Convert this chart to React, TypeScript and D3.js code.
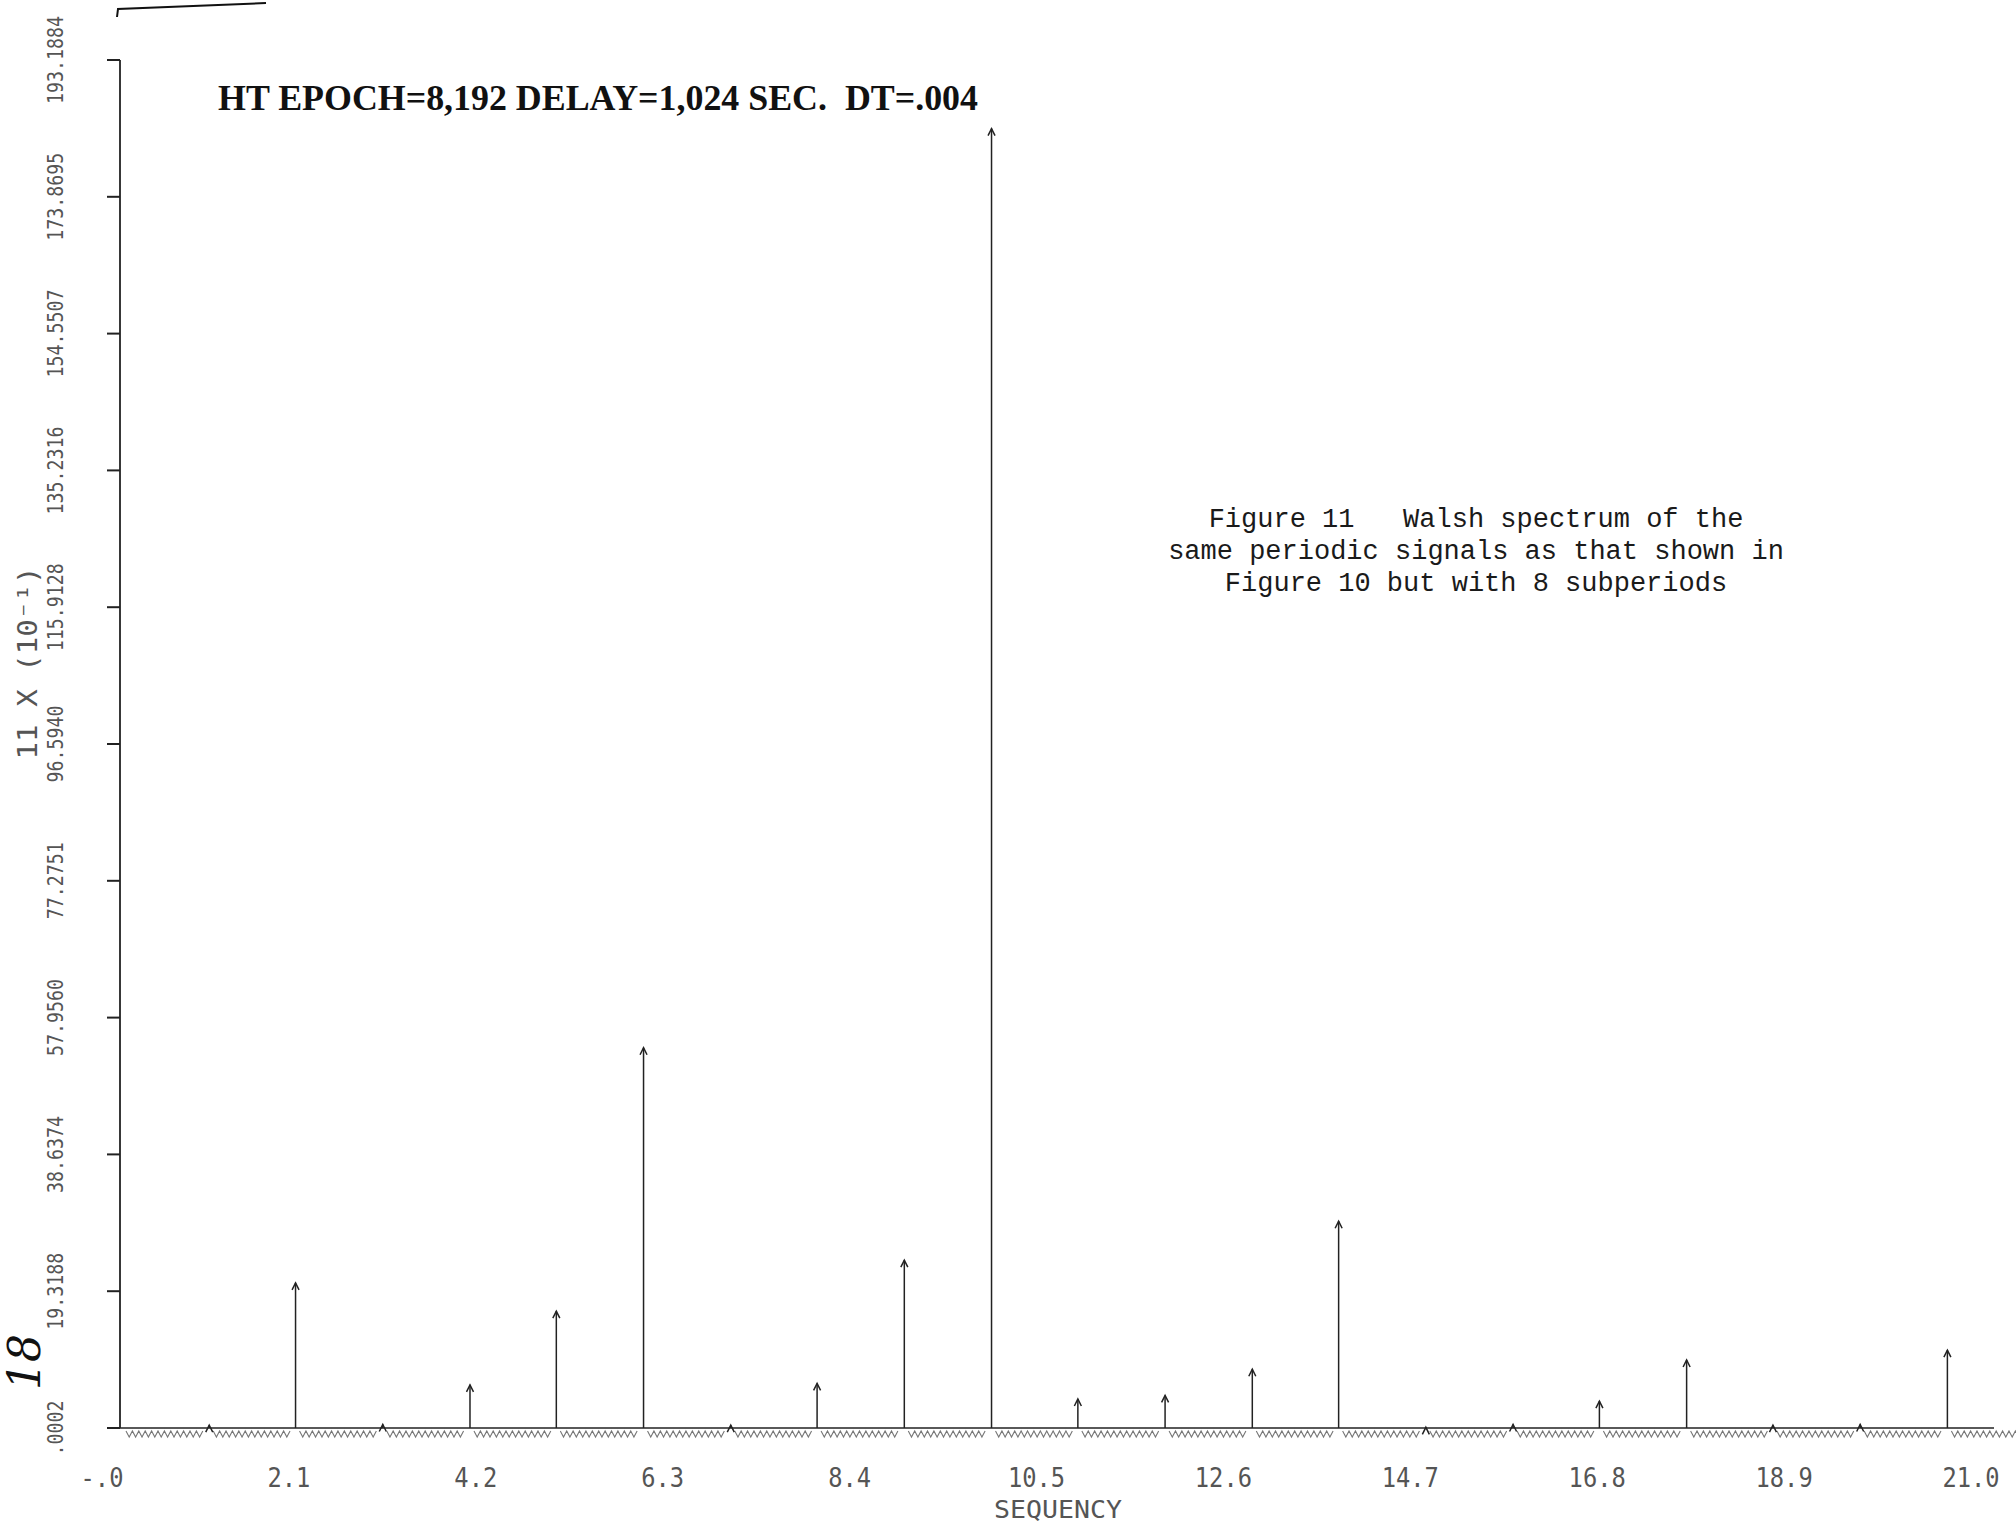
import React from "react";
import * as d3 from "d3";

// ---- data ----
const sequency = [0.98, 1.95, 2.93, 3.91, 4.88, 5.86, 6.84, 7.81, 8.79, 9.77, 10.74, 11.72, 12.7, 13.67, 14.65, 15.63, 16.6, 17.58, 18.55, 19.53, 20.51];
const amplitude = [0.4, 20.5, 0.5, 6.1, 16.5, 53.7, 0.4, 6.3, 23.7, 183.5, 4.1, 4.6, 8.3, 29.2, 0.1, 0.5, 3.8, 9.6, 0.4, 0.5, 11.0];

const xTickValues = [0, 2.1, 4.2, 6.3, 8.4, 10.5, 12.6, 14.7, 16.8, 18.9, 21.0];
const xTickLabels = ["-.0", "2.1", "4.2", "6.3", "8.4", "10.5", "12.6", "14.7", "16.8", "18.9", "21.0"];

const yTickValues = [0.0002, 19.3188, 38.6374, 57.956, 77.2751, 96.594, 115.9128, 135.2316, 154.5507, 173.8695, 193.1884];
const yTickLabels = [".0002", "19.3188", "38.6374", "57.9560", "77.2751", "96.5940", "115.9128", "135.2316", "154.5507", "173.8695", "193.1884"];

const titleText = "HT EPOCH=8,192 DELAY=1,024 SEC.  DT=.004";
const captionLines = [
  "Figure 11   Walsh spectrum of the",
  "same periodic signals as that shown in",
  "Figure 10 but with 8 subperiods",
];
const xAxisTitle = "SEQUENCY";
const yAxisTitle = "11 X (10\u207B\u00B9)";

const W = 2016;
const H = 1524;

export default function App() {
  const x = d3.scaleLinear().domain([0, 21]).range([122, 1991]);
  const y = d3.scaleLinear().domain([0.0002, 193.1884]).range([1428, 60]);
  const base = y(0.0002);
  const axisX = 120;

  const mono = "'DejaVu Sans Mono', monospace";

  // zigzag texture segments under the baseline (between spike positions)
  const breaks = [0, ...sequency, 21.5];
  const zig: string[] = [];
  for (let i = 0; i < breaks.length - 1; i++) {
    const a = x(breaks[i]) + 4;
    const b = x(breaks[i + 1]) - 4;
    if (b <= a) continue;
    const pts: [number, number][] = d3.range(a, b, 3.2).map((px, j) => [px, j % 2 === 0 ? base + 3 : base + 9]);
    zig.push(d3.line()(pts) || "");
  }

  return (
    <svg width={W} height={H} style={{ position: "absolute", left: 0, top: 0, background: "#fff" }}>
      <rect x={0} y={0} width={W} height={H} fill="#fff" />

      {/* stray scan border at top-left */}
      <path d="M117,17 L118,9 L266,3" fill="none" stroke="#111" strokeWidth={2} />

      {/* title */}
      <text x={218} y={110} xmlSpace="preserve" fontFamily="'Liberation Serif', 'DejaVu Serif', serif" fontWeight="bold" fontSize={35}
        textLength={760} lengthAdjust="spacingAndGlyphs" fill="#111" style={{ whiteSpace: "pre" }}>{titleText}</text>

      {/* caption */}
      {captionLines.map((t, i) => (
        <text key={i} x={1476} y={527 + i * 32} xmlSpace="preserve" textAnchor="middle" fontFamily="'Liberation Mono', monospace"
          fontSize={27} fill="#1a1a1a" style={{ whiteSpace: "pre" }}>{t}</text>
      ))}

      {/* y axis */}
      <line x1={axisX} x2={axisX} y1={y(193.1884)} y2={base} stroke="#222" strokeWidth={1.8} />
      {yTickValues.map((v, i) => (
        <g key={i}>
          <line x1={axisX - 13} x2={axisX} y1={y(v)} y2={y(v)} stroke="#222" strokeWidth={2} />
          <text transform={`translate(63,${y(v)}) rotate(-90)`} textAnchor="middle" fontFamily={mono} fontSize={21}
            textLength={yTickLabels[i].length * 11} lengthAdjust="spacingAndGlyphs" fill="#555">{yTickLabels[i]}</text>
        </g>
      ))}
      <text transform="translate(37,663) rotate(-90)" textAnchor="middle" fontFamily={mono} fontSize={27} fill="#555"
        textLength={193} lengthAdjust="spacingAndGlyphs">{yAxisTitle}</text>

      {/* baseline + texture */}
      <line x1={112} x2={1994} y1={base} y2={base} stroke="#222" strokeWidth={1.6} />
      {zig.map((d, i) => (
        <path key={i} d={d} fill="none" stroke="#777" strokeWidth={1.1} />
      ))}

      {/* spikes */}
      {sequency.map((s, i) => {
        const px = x(s);
        const top = y(amplitude[i]);
        return (
          <g key={i}>
            <line x1={px} x2={px} y1={base} y2={top} stroke="#222" strokeWidth={1.5} />
            <path d={`M${px - 3.5},${top + 7} L${px},${top} L${px + 3.5},${top + 7}`} fill="none" stroke="#222" strokeWidth={1.5} />
          </g>
        );
      })}

      {/* x tick labels */}
      {xTickValues.map((v, i) => (
        <text key={i} x={x(v) - 20} y={1487} textAnchor="middle" fontFamily={mono} fontSize={26}
          textLength={xTickLabels[i].length * 14.3} lengthAdjust="spacingAndGlyphs" fill="#555">{xTickLabels[i]}</text>
      ))}
      <text x={1058} y={1518} textAnchor="middle" fontFamily={mono} fontSize={25} textLength={128}
        lengthAdjust="spacingAndGlyphs" fill="#555">{xAxisTitle}</text>

      {/* handwritten page mark */}
      <text transform="translate(40,1362) rotate(-90)" textAnchor="middle" fontFamily="'DejaVu Serif', serif" fontStyle="italic"
        fontSize={44} fill="#111">18</text>
    </svg>
  );
}
